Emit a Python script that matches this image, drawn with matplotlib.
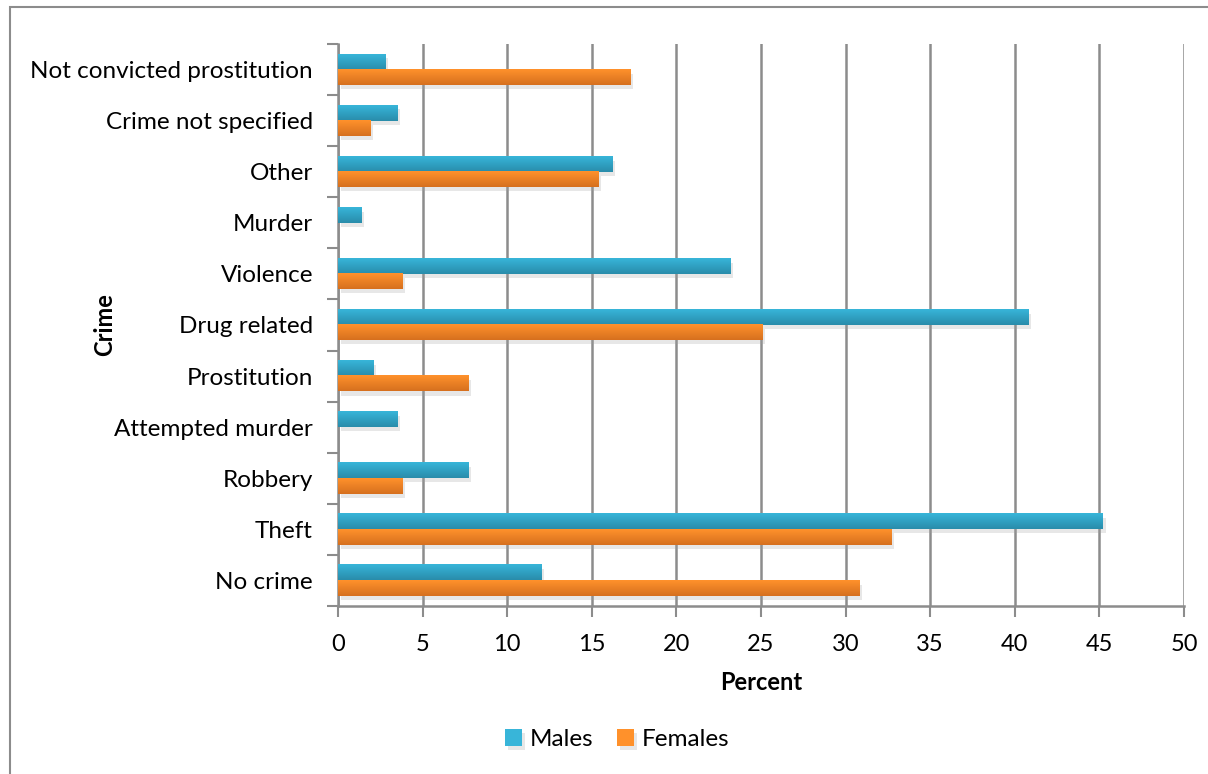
import matplotlib
matplotlib.use('Agg')
import matplotlib.pyplot as plt
import matplotlib.patheffects as pe
from matplotlib.patches import Rectangle
import numpy as np

crimes = ['No crime', 'Theft', 'Robbery', 'Attempted murder', 'Prostitution',
          'Drug related', 'Violence', 'Murder', 'Other', 'Crime not specified',
          'Not convicted prostitution']
males = [12.0, 45.2, 7.7, 3.5, 2.1, 40.8, 23.2, 1.4, 16.2, 3.5, 2.8]
females = [30.8, 32.7, 3.8, 0.0, 7.7, 25.1, 3.8, 0.0, 15.4, 1.9, 17.3]

plt.rcParams['font.family'] = ['Lato', 'DejaVu Sans']

fig = plt.figure(figsize=(12.08, 7.74), dpi=100)
ax = fig.add_axes([0.2798, 0.2171, 0.7003, 0.7261])

# outer chart frame
fig.patches.append(Rectangle((0.0083, -0.05), 1.2, 1.041, transform=fig.transFigure,
                             fill=False, edgecolor='#8c8c8c', linewidth=1.5))

y = np.arange(len(crimes))
h = 0.3
blue_top, blue_bot = np.array([0.22, 0.71, 0.85]), np.array([0.16, 0.55, 0.67])
orng_top, orng_bot = np.array([1.0, 0.57, 0.17]), np.array([0.84, 0.44, 0.12])


def gradient_bars(vals, offset, top, bot, label):
    bars = ax.barh(y + offset, vals, height=h, color=top, label=label, zorder=3,
                   path_effects=[pe.SimplePatchShadow(offset=(2, -3), shadow_rgbFace='#a0a0a0', alpha=0.25),
                                 pe.Normal()])
    grad = np.linspace(0, 1, 32)[:, None, None]
    img = top * (1 - grad) + bot * grad
    for b in bars:
        if b.get_width() <= 0:
            continue
        x0, y0 = b.get_x(), b.get_y()
        ax.imshow(img, extent=(x0, x0 + b.get_width(), y0, y0 + b.get_height()),
                  aspect='auto', zorder=4, interpolation='bilinear', origin='upper')
    return bars


gradient_bars(males, h / 2, blue_top, blue_bot, 'Males')
gradient_bars(females, -h / 2, orng_top, orng_bot, 'Females')

ax.set_xlim(0, 50)
ax.set_ylim(-0.5, len(crimes) - 0.5)
ax.set_xticks(np.arange(0, 51, 5))
ax.set_yticks(y)
ax.set_yticklabels(crimes)
ax.set_yticks(np.arange(-0.5, len(crimes)), minor=True)
ax.tick_params(axis='y', which='major', length=0, labelsize=17.5, pad=18)
ax.tick_params(axis='y', which='minor', length=8, width=1.5, color='#8c8c8c')
ax.tick_params(axis='x', length=8, width=1.5, color='#8c8c8c', labelsize=17, pad=12)
ax.grid(axis='x', color='#8c8c8c', linewidth=1.8, zorder=0)
ax.set_axisbelow(True)
for s in ['top', 'right']:
    ax.spines[s].set_visible(False)
for s in ['left', 'bottom']:
    ax.spines[s].set_color('#8c8c8c')
    ax.spines[s].set_linewidth(1.8)

ax.set_xlabel('Percent', fontsize=17, fontweight='bold', labelpad=12)
ax.set_ylabel('Crime', fontsize=17, fontweight='bold')
ax.yaxis.set_label_coords(-0.262, 0.5)

leg = ax.legend(loc='upper center', bbox_to_anchor=(0.33, -0.18), ncol=2, frameon=False,
                fontsize=17.5, handlelength=0.7, handleheight=0.7, handletextpad=0.3,
                columnspacing=1.0)

fig.savefig('out.png', dpi=100)
